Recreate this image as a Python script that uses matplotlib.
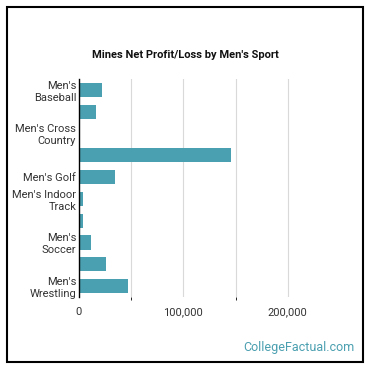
import matplotlib.pyplot as plt
from matplotlib.patches import Rectangle

sports = ["Men's Baseball", "Men's Basketball", "Men's Cross Country", "Men's Football",
          "Men's Golf", "Men's Indoor Track", "Men's Outdoor Track", "Men's Soccer",
          "Men's Swimming", "Men's Wrestling"]
profit = [22000, 16000, 0, 146000, 34500, 4000, 4000, 11500, 26000, 47000]
tick_labels = ["Men's\nBaseball", "", "Men's Cross\nCountry", "", "Men's Golf",
               "Men's Indoor\nTrack", "", "Men's\nSoccer", "", "Men's\nWrestling"]
x_ticks = [0, 100000, 200000]
x_tick_labels = ["0", "100,000", "200,000"]

plt.rcParams['font.family'] = ['Roboto', 'DejaVu Sans']

fig = plt.figure(figsize=(3.7, 3.7), dpi=100)
ax = fig.add_axes([79 / 370, 1 - 297 / 370, 261 / 370, 218 / 370])

pos = list(range(len(sports)))
ax.barh(pos, profit, height=0.66, color='#4a9fb0', zorder=3)
ax.set_ylim(len(sports) - 0.5, -0.5)
ax.set_xlim(0, 250000)

ax.set_yticks(pos)
ax.set_yticklabels(tick_labels, fontsize=8, color='#333333', linespacing=1.25)
ax.set_xticks(x_ticks)
ax.set_xticklabels(x_tick_labels, fontsize=8, color='#333333')
ax.set_xticks([50000, 150000], minor=True)
ax.tick_params(axis='both', length=0)
ax.tick_params(axis='x', pad=7)
ax.tick_params(axis='y', pad=2)
ax.grid(axis='x', which='both', color='#d9d9d9', linewidth=0.8, zorder=0)

for s in ['top', 'right', 'bottom']:
    ax.spines[s].set_visible(False)
ax.spines['left'].set_color('black')
ax.spines['left'].set_linewidth(1)
ax.spines['left'].set_zorder(4)

fig.text(0.5, 1 - 55 / 370, "Mines Net Profit/Loss by Men's Sport", ha='center', va='center',
         fontsize=8, fontweight='bold', color='#111111')
fig.text(355 / 370, 1 - 348 / 370, "CollegeFactual.com", ha='right', va='center',
         fontsize=9, color='#4a9fb0')

fig.patches.append(Rectangle((7 / 370, 8 / 370), 356 / 370, 355 / 370, transform=fig.transFigure,
                             fill=False, edgecolor='black', linewidth=1.5))

fig.savefig('out.png', dpi=100)
